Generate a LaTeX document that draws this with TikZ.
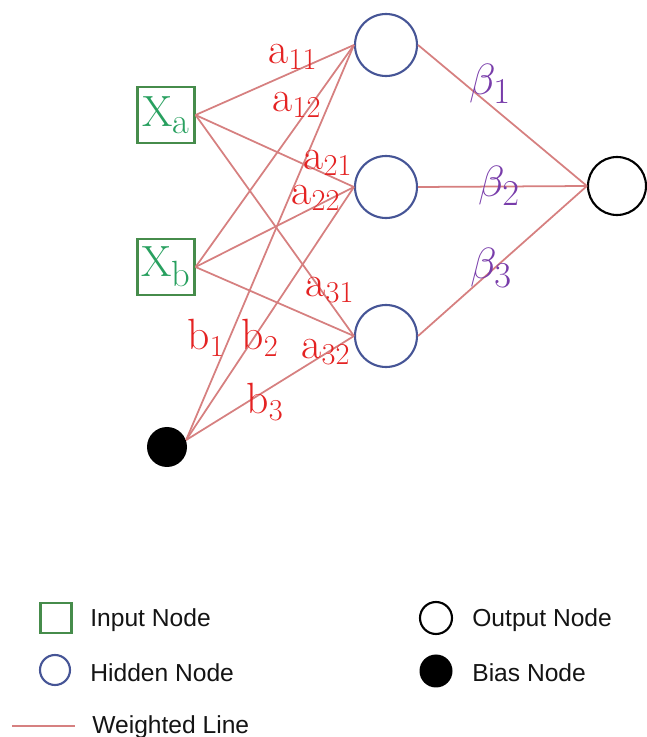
\documentclass[tikz,border=0pt]{standalone}
\usepackage{fontspec}
\newfontfamily\legendfont{Liberation Sans}
\usetikzlibrary{positioning}

\definecolor{inputgreen}{RGB}{70,140,75}
\definecolor{xgreen}{RGB}{40,160,95}
\definecolor{hiddenblue}{RGB}{70,85,150}
\definecolor{wred}{RGB}{214,128,128}
\definecolor{labelred}{RGB}{228,35,35}
\definecolor{betapurple}{RGB}{120,60,170}

% weight with a small index
\newcommand{\wt}[2]{$\mathrm{#1}_{\scriptscriptstyle #2}$}

\begin{document}
\begin{tikzpicture}[
    inputnode/.style={rectangle, draw=inputgreen, line width=1.2pt, minimum width=1.14cm, minimum height=1.12cm, inner sep=0pt, text=xgreen, font=\Huge},
    hiddennode/.style={circle, draw=hiddenblue, line width=1.2pt, minimum size=1.24cm, inner sep=0pt},
    outputnode/.style={circle, draw=black, line width=1.2pt, minimum size=1.16cm, inner sep=0pt},
    biasnode/.style={circle, fill=black, minimum size=0.8cm, inner sep=0pt},
    wline/.style={draw=wred, line width=1pt},
    wlabel/.style={text=labelred, font=\Huge, inner sep=0pt},
    blabel/.style={text=betapurple, font=\Huge, inner sep=0pt},
    legtext/.style={anchor=base west, inner sep=0pt, text=black!92, font=\legendfont\fontsize{14}{16}\selectfont}
]

\path[use as bounding box] (0,0) rectangle (12.92,14.74);

% layers
\node[inputnode] (xa) at (3.32,12.44) {$\mathrm{X}_\mathrm{a}$};
\node[inputnode] (xb) at (3.32,9.40)  {$\mathrm{X}_\mathrm{b}$};
\node[biasnode]  (bias) at (3.34,5.80) {};

\node[hiddennode] (h1) at (7.72,13.84) {};
\node[hiddennode] (h2) at (7.72,11.00) {};
\node[hiddennode] (h3) at (7.72,8.02)  {};

\node[outputnode] (out) at (12.34,11.02) {};

% input -> hidden
\draw[wline] (xa.east) -- (h1.west);
\draw[wline] (xa.east) -- (h2.west);
\draw[wline] (xa.east) -- (h3.west);
\draw[wline] (xb.east) -- (h1.west);
\draw[wline] (xb.east) -- (h2.west);
\draw[wline] (xb.east) -- (h3.west);

% bias -> hidden
\draw[wline] (bias.20) -- (h1.west);
\draw[wline] (bias.20) -- (h2.west);
\draw[wline] (bias.20) -- (h3.west);

% hidden -> output
\draw[wline] (h1.east) -- (out.west);
\draw[wline] (h2.east) -- (out.west);
\draw[wline] (h3.east) -- (out.west);

% weights
\node[wlabel] (a11) at (5.86,13.60) {\wt{a}{11}};
\node[wlabel] (a12) at (5.94,12.64) {\wt{a}{12}};
\node[wlabel] (a21) at (6.56,11.48) {\wt{a}{21}};
\node[wlabel] (a22) at (6.32,10.78) {\wt{a}{22}};
\node[wlabel] (a31) at (6.60,8.94)  {\wt{a}{31}};
\node[wlabel] (a32) at (6.52,7.70)  {\wt{a}{32}};
\node[wlabel] (b1) at (4.12,7.98) {\wt{b}{1}};
\node[wlabel] (b2) at (5.20,7.98) {\wt{b}{2}};
\node[wlabel] (b3) at (5.30,6.70) {\wt{b}{3}};

\node[blabel] (beta1) at (9.80,13.06) {$\beta_1$};
\node[blabel] (beta2) at (9.98,11.02) {$\beta_2$};
\node[blabel] (beta3) at (9.82,9.38)  {$\beta_3$};

% legend
\node[rectangle, draw=inputgreen, line width=1.2pt, minimum width=0.62cm, minimum height=0.6cm, inner sep=0pt] (kin) at (1.12,2.38) {};
\node[legtext] (tin) at (1.80,2.20) {Input Node};

\node[circle, draw=hiddenblue, line width=1.2pt, minimum size=0.6cm, inner sep=0pt] (khid) at (1.10,1.34) {};
\node[legtext] (thid) at (1.80,1.10) {Hidden Node};

\coordinate (kw1) at (0.24,0.22);
\coordinate (kw2) at (1.50,0.22);
\draw[wline, line width=1.5pt] (kw1) -- (kw2);
\node[legtext] (tw) at (1.84,0.06) {Weighted Line};

\node[circle, draw=black, line width=1.2pt, minimum size=0.64cm, inner sep=0pt] (kout) at (8.72,2.38) {};
\node[legtext] (tout) at (9.44,2.20) {Output Node};

\node[circle, fill=black, minimum size=0.66cm, inner sep=0pt] (kbias) at (8.72,1.32) {};
\node[legtext] (tbias) at (9.44,1.12) {Bias Node};

\end{tikzpicture}
\end{document}
